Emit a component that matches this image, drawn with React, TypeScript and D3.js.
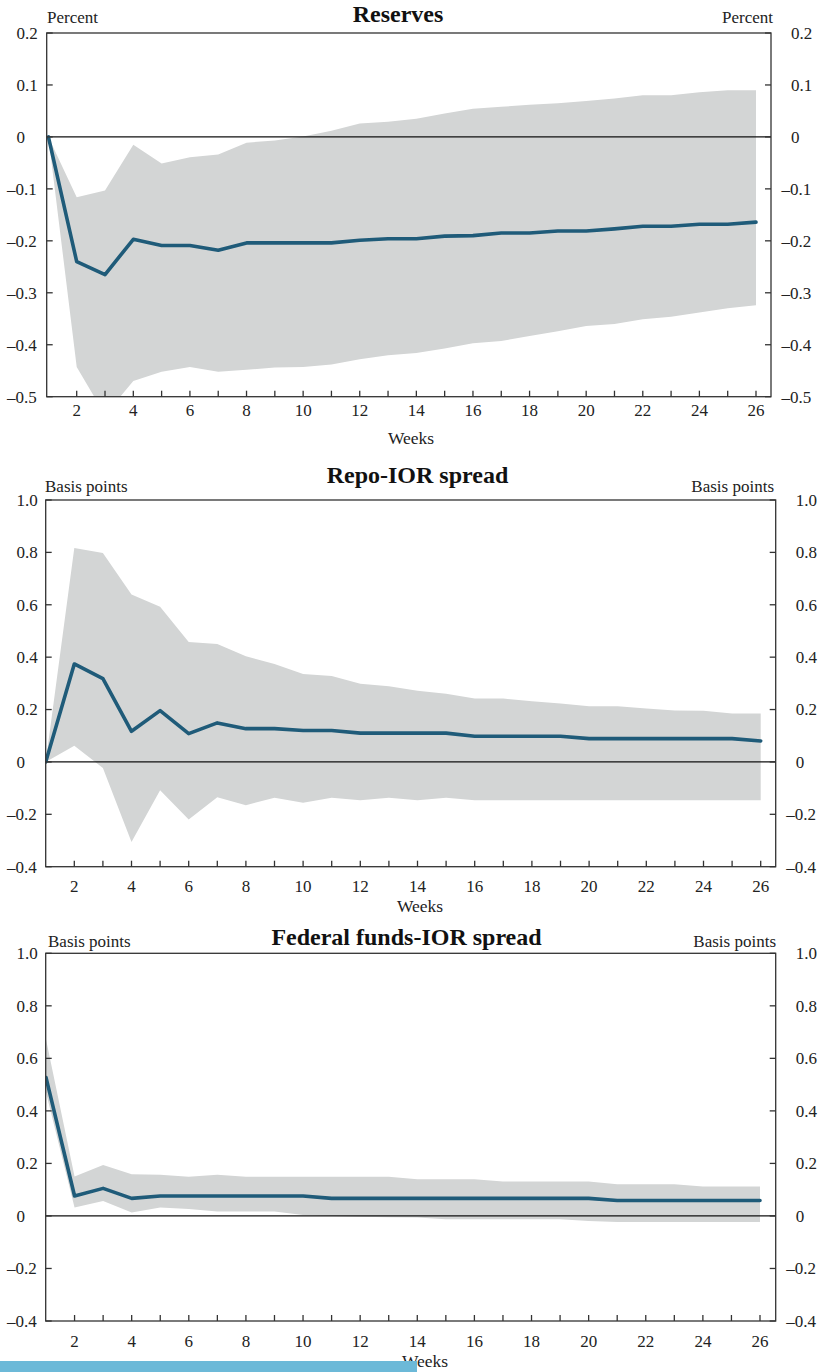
import React from "react";
import * as d3 from "d3";

const weeks = [1, 2, 3, 4, 5, 6, 7, 8, 9, 10, 11, 12, 13, 14, 15, 16, 17, 18, 19, 20, 21, 22, 23, 24, 25, 26];

const reservesLine = [0, -0.24, -0.265, -0.197, -0.209, -0.209, -0.218, -0.204, -0.204, -0.204, -0.204, -0.199, -0.196, -0.196, -0.191, -0.19, -0.185, -0.185, -0.181, -0.181, -0.177, -0.172, -0.172, -0.168, -0.168, -0.164];
const reservesUpper = [0, -0.116, -0.103, -0.015, -0.051, -0.039, -0.034, -0.011, -0.007, 0.001, 0.012, 0.026, 0.029, 0.035, 0.045, 0.054, 0.058, 0.062, 0.065, 0.069, 0.074, 0.08, 0.08, 0.086, 0.09, 0.09];
const reservesLower = [0, -0.443, -0.535, -0.47, -0.452, -0.443, -0.452, -0.448, -0.444, -0.443, -0.438, -0.428, -0.42, -0.416, -0.407, -0.397, -0.393, -0.383, -0.374, -0.364, -0.36, -0.351, -0.346, -0.338, -0.33, -0.324];

const repoLine = [0, 0.374, 0.318, 0.117, 0.196, 0.108, 0.149, 0.127, 0.127, 0.12, 0.12, 0.11, 0.11, 0.11, 0.11, 0.098, 0.098, 0.098, 0.098, 0.089, 0.089, 0.089, 0.089, 0.089, 0.089, 0.08];
const repoUpper = [0, 0.817, 0.798, 0.639, 0.592, 0.458, 0.45, 0.403, 0.374, 0.336, 0.328, 0.298, 0.289, 0.272, 0.26, 0.242, 0.242, 0.232, 0.223, 0.213, 0.213, 0.204, 0.196, 0.195, 0.185, 0.185];
const repoLower = [0, 0.062, -0.023, -0.306, -0.108, -0.22, -0.135, -0.165, -0.137, -0.156, -0.137, -0.146, -0.137, -0.146, -0.137, -0.146, -0.146, -0.146, -0.146, -0.146, -0.146, -0.146, -0.146, -0.146, -0.146, -0.146];

const ffLine = [0.527, 0.076, 0.105, 0.067, 0.076, 0.076, 0.076, 0.076, 0.076, 0.076, 0.067, 0.067, 0.067, 0.067, 0.067, 0.067, 0.067, 0.067, 0.067, 0.067, 0.059, 0.059, 0.059, 0.059, 0.059, 0.059];
const ffUpper = [0.673, 0.15, 0.194, 0.159, 0.157, 0.149, 0.157, 0.149, 0.149, 0.149, 0.149, 0.149, 0.149, 0.14, 0.14, 0.14, 0.131, 0.131, 0.131, 0.131, 0.121, 0.121, 0.121, 0.112, 0.112, 0.112];
const ffLower = [0.47, 0.032, 0.057, 0.013, 0.032, 0.026, 0.017, 0.017, 0.017, 0.004, 0, -0.003, -0.005, -0.006, -0.013, -0.013, -0.013, -0.013, -0.013, -0.019, -0.023, -0.023, -0.023, -0.023, -0.023, -0.023];

const reservesTicks = [0.2, 0.1, 0, -0.1, -0.2, -0.3, -0.4, -0.5];
const spreadTicks = [1.0, 0.8, 0.6, 0.4, 0.2, 0, -0.2, -0.4];
const xLabelTicks = [2, 4, 6, 8, 10, 12, 14, 16, 18, 20, 22, 24, 26];

const FONT = "'Liberation Serif', 'Times New Roman', serif";
const BAND = "#d3d5d5";
const LINE = "#1f5b79";
const AXIS = "#333";

type PanelProps = {
  id: string;
  title: string;
  titleX: number;
  titleY: number;
  unit: string;
  unitLeftX: number;
  unitRightX: number;
  unitY: number;
  left: number;
  right: number;
  top: number;
  bottom: number;
  w1X: number;
  w26X: number;
  yDomain: [number, number];
  yTicks: number[];
  tickFmt: (v: number) => string;
  line: number[];
  upper: number[];
  lower: number[];
  xLabelDy: number;
  weeksX: number;
  weeksY: number;
};

function fmtTick(f: (v: number) => string) {
  return (v: number) => (v === 0 ? "0" : f(Math.abs(v)));
}

function Panel(p: PanelProps) {
  const x = d3.scaleLinear().domain([1, 26]).range([p.w1X, p.w26X]);
  const y = d3.scaleLinear().domain(p.yDomain).range([p.bottom, p.top]);
  const area = d3
    .area<number>()
    .x((_, i) => x(weeks[i]))
    .y0((_, i) => y(p.lower[i]))
    .y1((_, i) => y(p.upper[i]));
  const line = d3
    .line<number>()
    .x((_, i) => x(weeks[i]))
    .y((d) => y(d));
  const tickLen = 6;
  const minusW = 9.5;
  const fs = 17;
  return (
    <g>
      <defs>
        <clipPath id={`clip-${p.id}`}>
          <rect x={p.left} y={p.top} width={p.right - p.left} height={p.bottom - p.top} />
        </clipPath>
      </defs>
      <g clipPath={`url(#clip-${p.id})`}>
        <path d={area(p.upper) || ""} fill={BAND} />
        <line x1={p.left} x2={p.right} y1={y(0)} y2={y(0)} stroke="#111" strokeWidth={1.2} />
        <path
          d={line(p.line) || ""}
          fill="none"
          stroke={LINE}
          strokeWidth={3.6}
          strokeLinejoin="round"
          strokeLinecap="round"
        />
      </g>
      <rect
        x={p.left}
        y={p.top}
        width={p.right - p.left}
        height={p.bottom - p.top}
        fill="none"
        stroke={AXIS}
        strokeWidth={1.3}
      />
      {p.yTicks.map((t) => (
        <g key={`yt${t}`}>
          <line x1={p.left} x2={p.left + tickLen} y1={y(t)} y2={y(t)} stroke={AXIS} strokeWidth={1.3} />
          <line x1={p.right - tickLen} x2={p.right} y1={y(t)} y2={y(t)} stroke={AXIS} strokeWidth={1.3} />
          <text
            x={t < 0 ? 16.5 - minusW : 16.5}
            y={y(t)}
            dy="0.35em"
            fontSize={fs}
            fontFamily={FONT}
            fill="#222"
          >
            {(t < 0 ? "\u2013" : "") + p.tickFmt(t)}
          </text>
          <text
            x={t < 0 ? p.right + 20 - minusW : p.right + 20}
            y={y(t)}
            dy="0.35em"
            fontSize={fs}
            fontFamily={FONT}
            fill="#222"
          >
            {(t < 0 ? "\u2013" : "") + p.tickFmt(t)}
          </text>
        </g>
      ))}
      {weeks
        .filter((w) => w > 1)
        .map((w) => (
          <line
            key={`xt${w}`}
            x1={x(w)}
            x2={x(w)}
            y1={p.bottom}
            y2={p.bottom - tickLen}
            stroke={AXIS}
            strokeWidth={1.3}
          />
        ))}
      {xLabelTicks.map((w) => (
        <text
          key={`xl${w}`}
          x={x(w)}
          y={p.bottom + p.xLabelDy}
          textAnchor="middle"
          fontSize={fs}
          fontFamily={FONT}
          fill="#222"
        >
          {w}
        </text>
      ))}
      <text x={p.weeksX} y={p.weeksY} textAnchor="middle" fontSize={17.5} fontFamily={FONT} fill="#222">
        Weeks
      </text>
      <text
        x={p.titleX}
        y={p.titleY}
        textAnchor="middle"
        fontSize={24}
        fontWeight="bold"
        fontFamily={FONT}
        fill="#111"
      >
        {p.title}
      </text>
      <text x={p.unitLeftX} y={p.unitY} fontSize={17} fontFamily={FONT} fill="#222">
        {p.unit}
      </text>
      <text x={p.unitRightX} y={p.unitY} textAnchor="end" fontSize={17} fontFamily={FONT} fill="#222">
        {p.unit}
      </text>
    </g>
  );
}

export default function App() {
  const f1 = fmtTick(d3.format(".1f"));
  return (
    <div style={{ position: "absolute", left: 0, top: 0, width: 821, height: 1372, background: "#fff" }}>
      <svg width={821} height={1372} style={{ display: "block" }}>
        <rect x={0} y={0} width={821} height={1372} fill="#fff" />
        <Panel
          id="res"
          title="Reserves"
          titleX={398}
          titleY={22}
          unit="Percent"
          unitLeftX={47}
          unitRightX={773}
          unitY={23}
          left={46.7}
          right={771}
          top={33}
          bottom={396.7}
          w1X={48.4}
          w26X={756}
          yDomain={[-0.5, 0.2]}
          yTicks={reservesTicks}
          tickFmt={f1}
          line={reservesLine}
          upper={reservesUpper}
          lower={reservesLower}
          xLabelDy={19}
          weeksX={411}
          weeksY={444}
        />
        <Panel
          id="repo"
          title="Repo-IOR spread"
          titleX={417.5}
          titleY={483}
          unit="Basis points"
          unitLeftX={45}
          unitRightX={774}
          unitY={492}
          left={45.7}
          right={775.7}
          top={500}
          bottom={866.7}
          w1X={45.7}
          w26X={760.7}
          yDomain={[-0.4, 1.0]}
          yTicks={spreadTicks}
          tickFmt={f1}
          line={repoLine}
          upper={repoUpper}
          lower={repoLower}
          xLabelDy={25}
          weeksX={420}
          weeksY={912}
        />
        <Panel
          id="ff"
          title="Federal funds-IOR spread"
          titleX={406.5}
          titleY={945}
          unit="Basis points"
          unitLeftX={48}
          unitRightX={776}
          unitY={947}
          left={45.7}
          right={775.7}
          top={953.3}
          bottom={1321}
          w1X={46}
          w26X={760}
          yDomain={[-0.4, 1.0]}
          yTicks={spreadTicks}
          tickFmt={f1}
          line={ffLine}
          upper={ffUpper}
          lower={ffLower}
          xLabelDy={25.5}
          weeksX={425}
          weeksY={1367}
        />
        <rect x={0} y={1361} width={417} height={11} fill="#6cb9d8" />
      </svg>
    </div>
  );
}
